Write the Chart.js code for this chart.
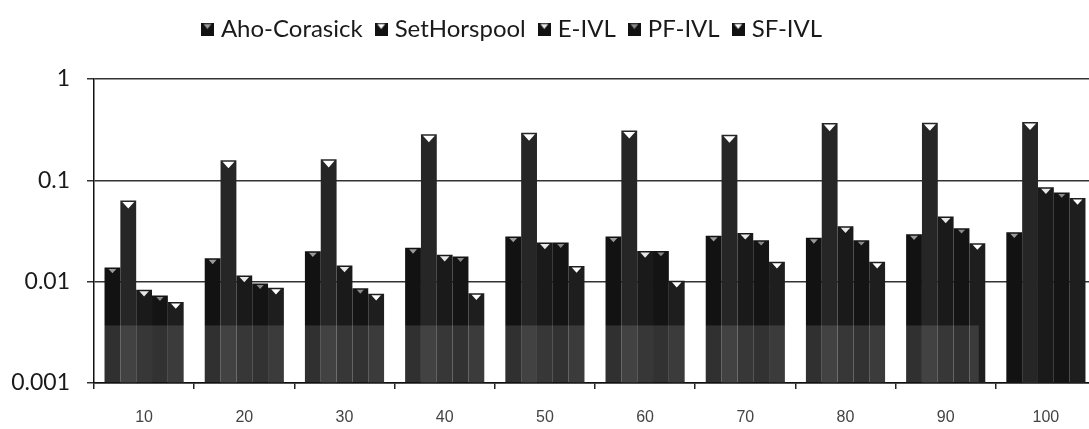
<!DOCTYPE html>
<html>
<head>
<meta charset="utf-8">
<script src="https://cdn.jsdelivr.net/npm/chart.js@4.4.1/dist/chart.umd.min.js"></script>
<style>
  html, body { margin: 0; padding: 0; background: #fff; overflow: hidden; }
  .chart-wrap { position: relative; width: 1096px; height: 429px; }
</style>
</head>
<body>
<div class="chart-wrap"><canvas id="myChart"></canvas></div>
<script>
// ======= DATA =======
const categories = ["10", "20", "30", "40", "50", "60", "70", "80", "90", "100"];
const seriesNames = ["Aho-Corasick", "SetHorspool", "E-IVL", "PF-IVL", "SF-IVL"];

const ahoCorasick = [0.0138, 0.017, 0.020, 0.0216, 0.0279, 0.0279, 0.0284, 0.0271, 0.0294, 0.0308];
const setHorspool = [0.0634, 0.158, 0.161, 0.285, 0.295, 0.311, 0.282, 0.367, 0.371, 0.376];
const eIvl = [0.0083, 0.0115, 0.0144, 0.0184, 0.0243, 0.0201, 0.0303, 0.0352, 0.044, 0.0853];
const pfIvl = [0.0073, 0.0096, 0.0086, 0.0177, 0.0243, 0.0201, 0.0257, 0.0257, 0.0337, 0.076];
const sfIvl = [0.0063, 0.0087, 0.0076, 0.0077, 0.0143, 0.0102, 0.0157, 0.0157, 0.024, 0.0668];

const yTicks = [0.001, 0.01, 0.1, 1];

// ======= STYLE =======
const barColors = ["#121212", "#262626", "#1a1a1a", "#141414", "#1e1e1e"];
const markColors = ["#9a9a9a", "#ffffff", "#e8e8e8", "#8a8a8a", "#ffffff"];
const markSizes = [0.5, 0.75, 0.6, 0.45, 0.6];
const legendShiftX = -34;
const legendShiftY = -28;

Chart.defaults.font.family = "Lato";

function makeIcon(markColor) {
  const c = document.createElement("canvas");
  c.width = 13;
  c.height = 13;
  const g = c.getContext("2d");
  g.fillStyle = "#111";
  g.fillRect(0, 0, 13, 13);
  g.fillStyle = markColor;
  g.beginPath();
  g.moveTo(2.5, 1.5);
  g.lineTo(10.5, 1.5);
  g.lineTo(6.5, 6.5);
  g.fill();
  return c;
}
const legendIcons = markColors.map(makeIcon);

// white triangles on bar tops + the faded lower band of the scan
const topMarks = {
  id: "topMarks",
  afterDatasetsDraw(chart) {
    const ctx = chart.ctx;
    const area = chart.chartArea;
    const xs = chart.scales.x;
    const ys = chart.scales.y;
    ctx.save();
    const bandTop = ys.getPixelForValue(0.0037);
    const bandRight = xs.getPixelForValue(8.33);
    ctx.fillStyle = "rgba(255,255,255,0.13)";
    ctx.fillRect(area.left + 1, bandTop, bandRight - area.left - 1, area.bottom - bandTop - 1);

    chart.data.datasets.forEach(function(ds, i) {
      const meta = chart.getDatasetMeta(i);
      meta.data.forEach(function(bar) {
        const w = bar.width * markSizes[i];
        const h = w * 0.55;
        ctx.fillStyle = markColors[i];
        ctx.beginPath();
        ctx.moveTo(bar.x - w / 2, bar.y + 1.5);
        ctx.lineTo(bar.x + w / 2, bar.y + 1.5);
        ctx.lineTo(bar.x, bar.y + 1.5 + h);
        ctx.fill();
      });
    });
    ctx.restore();
  }
};

const legendNudge = {
  id: "legendNudge",
  afterLayout(chart) {
    const lg = chart.legend;
    lg.left += legendShiftX;
    lg.right += legendShiftX;
    lg.top += legendShiftY;
    lg.bottom += legendShiftY;
  }
};

const seriesData = [ahoCorasick, setHorspool, eIvl, pfIvl, sfIvl];

const ctx = document.getElementById("myChart").getContext("2d");

const chart = new Chart(ctx, {
  type: "bar",
  data: {
    labels: categories,
    datasets: seriesNames.map(function(name, i) {
      return {
        label: name,
        data: seriesData[i],
        backgroundColor: barColors[i],
        borderWidth: 0,
        barPercentage: 1.0,
        categoryPercentage: 0.79
      };
    })
  },
  options: {
    responsive: true,
    maintainAspectRatio: false,
    animation: false,
    layout: { padding: { top: 28, bottom: 1, left: 0, right: 0 } },
    plugins: {
      tooltip: { enabled: false },
      legend: {
        position: "top",
        labels: {
          usePointStyle: true,
          boxWidth: 3,
          boxHeight: 13,
          padding: 17,
          color: "#1a1a1a",
          font: { family: "Lato", size: 24 },
          generateLabels: function(chart) {
            return chart.data.datasets.map(function(ds, i) {
              return {
                text: ds.label,
                fillStyle: ds.backgroundColor,
                strokeStyle: ds.backgroundColor,
                lineWidth: 0,
                pointStyle: legendIcons[i],
                hidden: !chart.isDatasetVisible(i),
                datasetIndex: i,
                fontColor: "#1a1a1a"
              };
            });
          }
        }
      }
    },
    scales: {
      x: {
        afterFit: function(axis) {
          axis.height = 45;
        },
        grid: { offset: true, drawOnChartArea: false, tickLength: 6, color: "#222", lineWidth: 1.5 },
        border: { color: "#111", width: 1.5 },
        ticks: { color: "#444", padding: 19, font: { family: "Liberation Sans", size: 16 } }
      },
      y: {
        type: "logarithmic",
        min: 0.001,
        max: 1,
        afterBuildTicks: function(axis) {
          axis.ticks = yTicks.map(function(v) { return { value: v }; });
        },
        afterFit: function(axis) {
          axis.width = 94;
        },
        ticks: {
          color: "#1a1a1a",
          padding: 17,
          font: { family: "Lato", size: 23 },
          callback: function(v) { return String(v); }
        },
        grid: { color: "#333", lineWidth: 1.5, tickLength: 7 },
        border: { color: "#111", width: 1.5 }
      }
    }
  },
  plugins: [topMarks, legendNudge]
});
</script>
</body>
</html>
